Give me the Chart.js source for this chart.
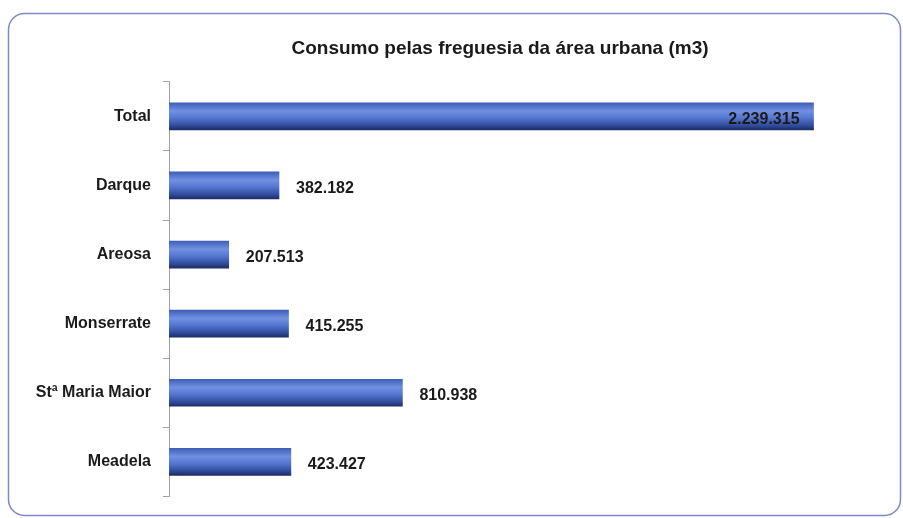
<!DOCTYPE html>
<html>
<head>
<meta charset="utf-8">
<script src="https://cdn.jsdelivr.net/npm/chart.js@4.4.0/dist/chart.umd.min.js"></script>
<style>
  html, body { margin: 0; padding: 0; background: #ffffff; }
  #wrap { position: relative; width: 903px; height: 518px; }
</style>
</head>
<body>
<div id="wrap"><canvas id="chart" width="903" height="518"></canvas></div>
<script>
const categories = ['Total', 'Darque', 'Areosa', 'Monserrate', 'Stª Maria Maior', 'Meadela'];
const consumo = [2239315, 382182, 207513, 415255, 810938, 423427];
const chartTitle = 'Consumo pelas freguesia da área urbana (m3)';

const FONT = '"Liberation Sans Narrow", "Arial Narrow", "Liberation Sans", Arial, sans-serif';
const BAR_H = 27;

function fmt(v) {
    return String(v).replace(/\B(?=(\d{3})+(?!\d))/g, '.');
}

// rounded frame around the whole chart
const framePlugin = {
    id: 'frame',
    beforeDraw(chart) {
        const ctx = chart.ctx;
        ctx.save();
        ctx.strokeStyle = '#7f88c8';
        ctx.lineWidth = 1.5;
        ctx.beginPath();
        ctx.roundRect(8.5, 13.5, 892, 502, 16);
        ctx.stroke();
        ctx.restore();
    }
};

// cylinder-like shading, one gradient per bar
function barGradient(c) {
    const chart = c.chart;
    const yScale = chart.scales.y;
    if (!chart.chartArea || !yScale) return '#5677d2';
    const mid = yScale.getPixelForValue(c.dataIndex);
    const top = mid - BAR_H / 2;
    const g = chart.ctx.createLinearGradient(0, top, 0, top + BAR_H);
    g.addColorStop(0, '#3f5fb8');
    g.addColorStop(0.3, '#7190e2');
    g.addColorStop(0.55, '#5677d2');
    g.addColorStop(0.85, '#2f4a98');
    g.addColorStop(1, '#1d2d66');
    return g;
}

// value labels next to (or inside) the bars
const valuePlugin = {
    id: 'values',
    afterDatasetsDraw(chart) {
        const ctx = chart.ctx;
        ctx.save();
        ctx.font = 'bold 16px ' + FONT;
        ctx.textBaseline = 'middle';
        ctx.fillStyle = '#1a1a1a';
        chart.getDatasetMeta(0).data.forEach((bar, i) => {
            const txt = fmt(consumo[i]);
            if (i === 0) {
                ctx.textAlign = 'right';
                ctx.fillText(txt, bar.x - 14, bar.y + 3);
            } else {
                ctx.textAlign = 'left';
                ctx.fillText(txt, bar.x + 17, bar.y + 3);
            }
        });
        ctx.restore();
    }
};

new Chart(document.getElementById('chart'), {
    type: 'bar',
    data: {
        labels: categories,
        datasets: [{
            data: consumo,
            backgroundColor: barGradient,
            borderWidth: 0,
            barThickness: BAR_H
        }]
    },
    options: {
        indexAxis: 'y',
        responsive: false,
        animation: false,
        layout: { padding: { top: 18, left: 10, right: 72, bottom: 12 } },
        scales: {
            x: {
                display: false,
                min: 0,
                max: 2300000
            },
            y: {
                afterFit(scale) { scale.width = 159; },
                border: { display: true, color: '#a0a0a0', width: 1 },
                grid: {
                    drawOnChartArea: false,
                    drawTicks: true,
                    tickLength: 6,
                    color: '#a0a0a0',
                    offset: true
                },
                ticks: {
                    padding: 12,
                    color: '#1a1a1a',
                    font: { family: FONT, size: 16, weight: 'bold' }
                }
            }
        },
        plugins: {
            legend: { display: false },
            tooltip: { enabled: false },
            title: {
                display: true,
                text: chartTitle,
                fullSize: false,
                color: '#1a1a1a',
                font: { family: FONT, size: 19, weight: 'bold', lineHeight: 1.2 },
                padding: { top: 19, bottom: 22 }
            }
        }
    },
    plugins: [framePlugin, valuePlugin]
});
</script>
</body>
</html>
